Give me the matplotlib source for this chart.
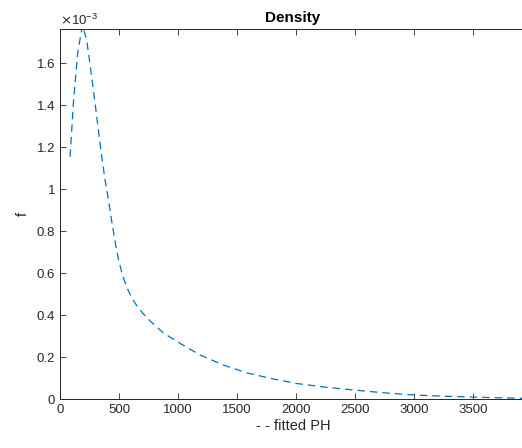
import matplotlib.pyplot as plt

# values (x, density in units of 1e-3)
x_vals = [85, 113, 150, 190, 226, 260, 297, 350, 380, 410, 440, 470, 495, 530, 566,
          610, 651, 700, 764, 877, 1019, 1188, 1386, 1584, 1800, 2000, 2250, 2500,
          2750, 3000, 3250, 3500, 3750, 3950]
f_vals = [1.154, 1.408, 1.65, 1.78, 1.71, 1.57, 1.408, 1.17, 1.05, 0.95, 0.84, 0.74,
          0.665, 0.59, 0.532, 0.48, 0.445, 0.41, 0.372, 0.315, 0.265, 0.21, 0.162, 0.125,
          0.097, 0.075, 0.057, 0.043, 0.03, 0.02, 0.014, 0.010, 0.006, 0.004]
x_ticks = [0, 500, 1000, 1500, 2000, 2500, 3000, 3500]
y_ticks = [0, 0.2, 0.4, 0.6, 0.8, 1.0, 1.2, 1.4, 1.6]

plt.rcParams['font.family'] = ['Liberation Sans', 'DejaVu Sans']
txt_col = '#262626'

fig = plt.figure(figsize=(5.22, 4.48), dpi=100)
ax = fig.add_axes([0.115, 0.109, 0.893, 0.826])

ax.plot(x_vals, f_vals, color='#0072BD', lw=0.9, dashes=(6, 4))

ax.set_xlim(0, 3950)
ax.set_ylim(0, 1.762)
ax.set_xticks(x_ticks)
ax.set_xticklabels([str(t) for t in x_ticks])
ax.set_yticks(y_ticks)
ax.set_yticklabels(['0', '0.2', '0.4', '0.6', '0.8', '1', '1.2', '1.4', '1.6'])

ax.tick_params(direction='in', length=4, width=0.6, colors=txt_col, labelsize=9.5,
               top=True, right=False)
for s in ax.spines.values():
    s.set_color(txt_col)
    s.set_linewidth(0.7)
ax.spines['right'].set_visible(False)

ax.text(0.0, 1.004, r'$\times\mathregular{10^{-3}}$', transform=ax.transAxes,
        fontsize=9.5, color=txt_col, va='bottom', ha='left')
ax.set_title('Density', fontsize=11, fontweight='bold', color='black', pad=5)
ax.set_xlabel('- - fitted PH', fontsize=10.5, color=txt_col, labelpad=2)
ax.set_ylabel('f', fontsize=10.5, color=txt_col, labelpad=5)

fig.savefig('out.png', dpi=100)
